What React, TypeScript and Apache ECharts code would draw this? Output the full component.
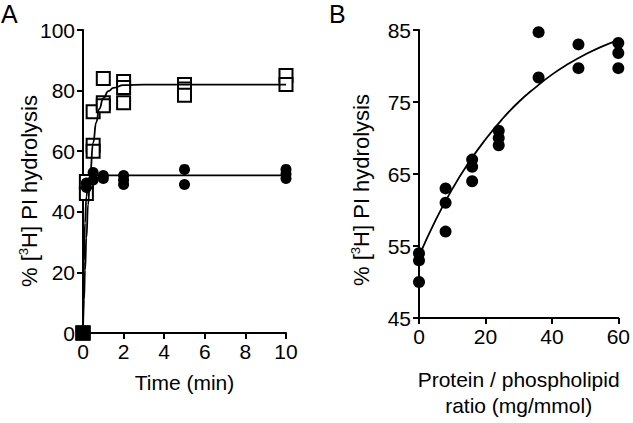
import React, { useEffect, useRef } from "react";
import * as echarts from "echarts";

// Panel A: time course
const squarePoints: [number, number][] = [
  [0, 0], [0, 0], [0, 0],
  [0.167, 46], [0.167, 50],
  [0.5, 73], [0.5, 62], [0.5, 60],
  [1, 84], [1, 76], [1, 75],
  [2, 83], [2, 81], [2, 76],
  [5, 82], [5, 80.5], [5, 78.5],
  [10, 85], [10, 82],
];
const circlePointsA: [number, number][] = [
  [0, 0], [0, 0],
  [0.167, 48], [0.167, 49.5],
  [0.5, 53], [0.5, 50.5],
  [1, 52], [1, 51],
  [2, 52], [2, 50.5], [2, 49],
  [5, 54], [5, 49],
  [10, 54], [10, 52.5], [10, 51],
];
const squareFit: [number, number][] = [
  [0, 0], [0.05, 11], [0.1, 20.7], [0.167, 31.5], [0.25, 42.3], [0.35, 52.3],
  [0.5, 62.7], [0.65, 69.5], [0.8, 74], [1, 77.5], [1.25, 79.8], [1.5, 80.9],
  [2, 81.8], [3, 82], [5, 82], [10, 82],
];
const circleFitA: [number, number][] = [
  [0, 0], [0.05, 23.5], [0.1, 36.3], [0.167, 45], [0.25, 49.4], [0.35, 51.2],
  [0.5, 51.9], [1, 52], [10, 52],
];
const xTicksA = { min: 0, max: 10, interval: 2 };
const yTicksA = { min: 0, max: 100, interval: 20 };

// Panel B: protein / phospholipid ratio
const circlePointsB: [number, number][] = [
  [0, 54], [0, 53], [0, 50],
  [8, 63], [8, 61], [8, 57],
  [16, 67], [16, 66], [16, 64],
  [24, 71], [24, 70], [24, 69],
  [36, 84.7], [36, 78.4],
  [48, 83], [48, 79.7],
  [60, 83.2], [60, 81.8], [60, 79.7],
];
const fitB: [number, number][] = [
  [0, 53.6], [5, 58.6], [10, 62.9], [15, 66.6], [20, 69.8], [25, 72.6],
  [30, 75.0], [35, 77.0], [40, 78.8], [45, 80.3], [50, 81.6], [55, 82.7], [60, 83.6],
];
const xTicksB = { min: 0, max: 60, interval: 20 };
const yTicksB = { min: 45, max: 85, interval: 10 };

const FONT = "'Liberation Sans', Arial, Helvetica, sans-serif";

function axisCommon() {
  return {
    axisLine: { show: true, onZero: false, lineStyle: { color: "#000", width: 2 } },
    axisTick: { show: true, length: 6, lineStyle: { color: "#000", width: 2 } },
    axisLabel: { color: "#000", fontSize: 21, fontFamily: FONT, margin: 8 },
    splitLine: { show: false },
  };
}

export default function App() {
  const ref = useRef<HTMLDivElement>(null);
  useEffect(() => {
    if (!ref.current) return;
    const chart = echarts.init(ref.current, null, { renderer: "svg" });
    const yTitle = (x: number, y: number) => ({
      type: "text",
      x,
      y,
      rotation: Math.PI / 2,
      style: {
        text: "% [{sup|3}H] PI hydrolysis",
        fontSize: 22,
        fontFamily: FONT,
        fill: "#000",
        align: "center",
        verticalAlign: "middle",
        lineHeight: 24,
        rich: {
          sup: { fontSize: 13, fontFamily: FONT, lineHeight: 14, verticalAlign: "top", fill: "#000" },
        },
      },
    });
    chart.setOption({
      animation: false,
      grid: [
        { left: 83, top: 30, width: 203, height: 303 },
        { left: 419, top: 30, width: 202, height: 303 },
      ],
      xAxis: [
        {
          gridIndex: 0, type: "value", ...xTicksA, ...axisCommon(),
          name: "Time (min)", nameLocation: "middle", nameGap: 39,
          nameTextStyle: { color: "#000", fontSize: 21, fontFamily: FONT },
        },
        {
          gridIndex: 1, type: "value", ...xTicksB, ...axisCommon(),
          name: "Protein / phospholipid\nratio (mg/mmol)", nameLocation: "middle", nameGap: 48,
          nameTextStyle: { color: "#000", fontSize: 21, fontFamily: FONT, lineHeight: 26 },
        },
      ],
      yAxis: [
        { gridIndex: 0, type: "value", ...yTicksA, ...axisCommon() },
        { gridIndex: 1, type: "value", ...yTicksB, ...axisCommon() },
      ],
      graphic: [
        { type: "text", x: 1, y: 1, style: { text: "A", fontSize: 25, fontFamily: FONT, fill: "#000" } },
        { type: "text", x: 329, y: 1, style: { text: "B", fontSize: 25, fontFamily: FONT, fill: "#000" } },
        yTitle(29, 191),
        yTitle(361, 190),
      ],
      series: [
        {
          type: "line", xAxisIndex: 0, yAxisIndex: 0, data: squareFit, showSymbol: false,
          smooth: true, smoothMonotone: "x", clip: false,
          lineStyle: { color: "#000", width: 1.8 },
        },
        {
          type: "line", xAxisIndex: 0, yAxisIndex: 0, data: circleFitA, showSymbol: false,
          smooth: true, smoothMonotone: "x", clip: false,
          lineStyle: { color: "#000", width: 1.8 },
        },
        {
          type: "scatter", xAxisIndex: 0, yAxisIndex: 0, clip: false,
          data: squarePoints.map((p) =>
            p[0] === 0 ? { value: p, itemStyle: { color: "#000" } } : { value: p }
          ),
          symbol: "rect", symbolSize: 13,
          itemStyle: { color: "#fff", borderColor: "#000", borderWidth: 2, opacity: 1 },
        },
        {
          type: "scatter", xAxisIndex: 0, yAxisIndex: 0, clip: false,
          data: circlePointsA, symbol: "circle", symbolSize: 11,
          itemStyle: { color: "#000", opacity: 1 },
        },
        {
          type: "line", xAxisIndex: 1, yAxisIndex: 1, data: fitB, showSymbol: false,
          smooth: true, clip: false,
          lineStyle: { color: "#000", width: 1.8 },
        },
        {
          type: "scatter", xAxisIndex: 1, yAxisIndex: 1, clip: false,
          data: circlePointsB, symbol: "circle", symbolSize: 12,
          itemStyle: { color: "#000", opacity: 1 },
        },
      ],
    });
    return () => chart.dispose();
  }, []);
  return (
    <div
      ref={ref}
      style={{ position: "fixed", left: 0, top: 0, width: 633, height: 423, background: "#fff" }}
    />
  );
}
